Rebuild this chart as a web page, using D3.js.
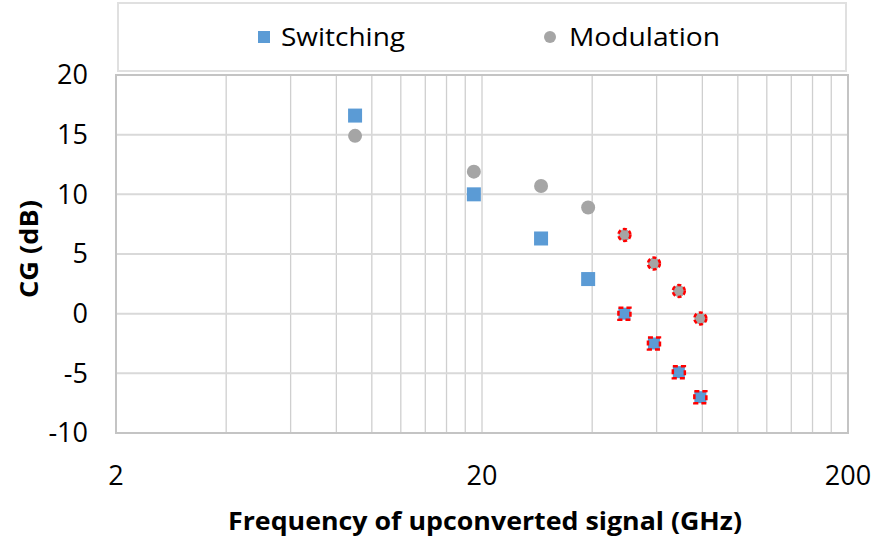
<!DOCTYPE html>
<html><head><meta charset="utf-8">
<script src="https://cdn.jsdelivr.net/npm/d3@7"></script>
<style>body{margin:0;background:#fff}svg{display:block}text{font-family:"Open Sans",Lato,sans-serif;fill:#000}</style>
</head><body><svg id="c" width="876" height="543"></svg>
<script>
const freqs = [9, 19, 29, 39, 49, 59, 69, 79];
const switching = [16.6, 10.0, 6.3, 2.9, 0.0, -2.5, -4.9, -7.0];
const modulation = [14.9, 11.9, 10.7, 8.9, 6.6, 4.2, 1.9, -0.4];
const highlighted = [false, false, false, false, true, true, true, true];
const xTickLabels = [2, 20, 200];
const yTickLabels = [-10, -5, 0, 5, 10, 15, 20];
const seriesNames = ["Switching", "Modulation"];

const svg = d3.select("#c");
const x = d3.scaleLog().domain([2, 200]).range([116, 848]);
const y = d3.scaleLinear().domain([-10, 20]).range([433, 75]);

// legend box
svg.append("rect").attr("x", 118).attr("y", 3).attr("width", 728).attr("height", 68)
  .attr("fill", "#fff").attr("stroke", "#e0e0e0").attr("stroke-width", 2);

// vertical gridlines (multiples of 2 per decade)
const vgrid = [];
[2, 20].forEach(d => { for (let k = 1; k < 10; k++) vgrid.push(d * k); });
vgrid.push(200);
svg.append("g").selectAll("line").data(vgrid).join("line")
  .attr("x1", d => x(d)).attr("x2", d => x(d)).attr("y1", y(20)).attr("y2", y(-10))
  .attr("stroke", "#cfcfcf").attr("stroke-width", 1.3);

// horizontal gridlines
svg.append("g").selectAll("line").data(yTickLabels).join("line")
  .attr("x1", x(2)).attr("x2", x(200)).attr("y1", d => y(d)).attr("y2", d => y(d))
  .attr("stroke", "#d9d9d9").attr("stroke-width", 2);

// plot border
svg.append("rect").attr("x", x(2)).attr("y", y(20)).attr("width", x(200) - x(2)).attr("height", y(-10) - y(20))
  .attr("fill", "none").attr("stroke", "#c4c4c4").attr("stroke-width", 2);

// y tick labels
svg.append("g").selectAll("text").data(yTickLabels).join("text")
  .attr("x", 88).attr("y", d => y(d)).attr("dy", "0.35em").attr("text-anchor", "end")
  .attr("font-size", 27).text(d => d);

// x tick labels
svg.append("g").selectAll("text").data(xTickLabels).join("text")
  .attr("x", d => x(d)).attr("y", 485).attr("text-anchor", "middle")
  .attr("font-size", 27).text(d => d);

// axis titles
svg.append("text").attr("x", 485).attr("y", 530).attr("text-anchor", "middle")
  .attr("font-size", 25).attr("font-weight", "bold")
  .attr("textLength", 514).attr("lengthAdjust", "spacingAndGlyphs")
  .text("Frequency of upconverted signal (GHz)");
svg.append("text").attr("transform", "translate(38,249) rotate(-90)").attr("text-anchor", "middle")
  .attr("font-size", 25).attr("font-weight", "bold")
  .attr("textLength", 98).attr("lengthAdjust", "spacingAndGlyphs")
  .text("CG (dB)");

// modulation circles
svg.append("g").selectAll("circle").data(freqs).join("circle")
  .attr("cx", d => x(d)).attr("cy", (d, i) => y(modulation[i]))
  .attr("r", (d, i) => highlighted[i] ? 6 : 7)
  .attr("fill", "#a5a5a5")
  .attr("stroke", (d, i) => highlighted[i] ? "#ff0000" : "none")
  .attr("stroke-width", 2.5).attr("stroke-dasharray", "4,2.5");

// switching squares
svg.append("g").selectAll("rect").data(freqs).join("rect")
  .attr("x", (d, i) => x(d) - (highlighted[i] ? 6 : 7))
  .attr("y", (d, i) => y(switching[i]) - (highlighted[i] ? 6 : 7))
  .attr("width", (d, i) => highlighted[i] ? 12 : 14)
  .attr("height", (d, i) => highlighted[i] ? 12 : 14)
  .attr("fill", "#5b9bd5")
  .attr("stroke", (d, i) => highlighted[i] ? "#ff0000" : "none")
  .attr("stroke-width", 2.5).attr("stroke-dasharray", "5,3");

// legend
svg.append("rect").attr("x", 258).attr("y", 31).attr("width", 12).attr("height", 12).attr("fill", "#5b9bd5");
svg.append("text").attr("x", 281).attr("y", 46).attr("font-size", 25)
  .attr("textLength", 124).attr("lengthAdjust", "spacingAndGlyphs").text(seriesNames[0]);
svg.append("circle").attr("cx", 550).attr("cy", 37).attr("r", 6).attr("fill", "#a5a5a5");
svg.append("text").attr("x", 569).attr("y", 46).attr("font-size", 25)
  .attr("textLength", 151).attr("lengthAdjust", "spacingAndGlyphs").text(seriesNames[1]);
</script></body></html>
